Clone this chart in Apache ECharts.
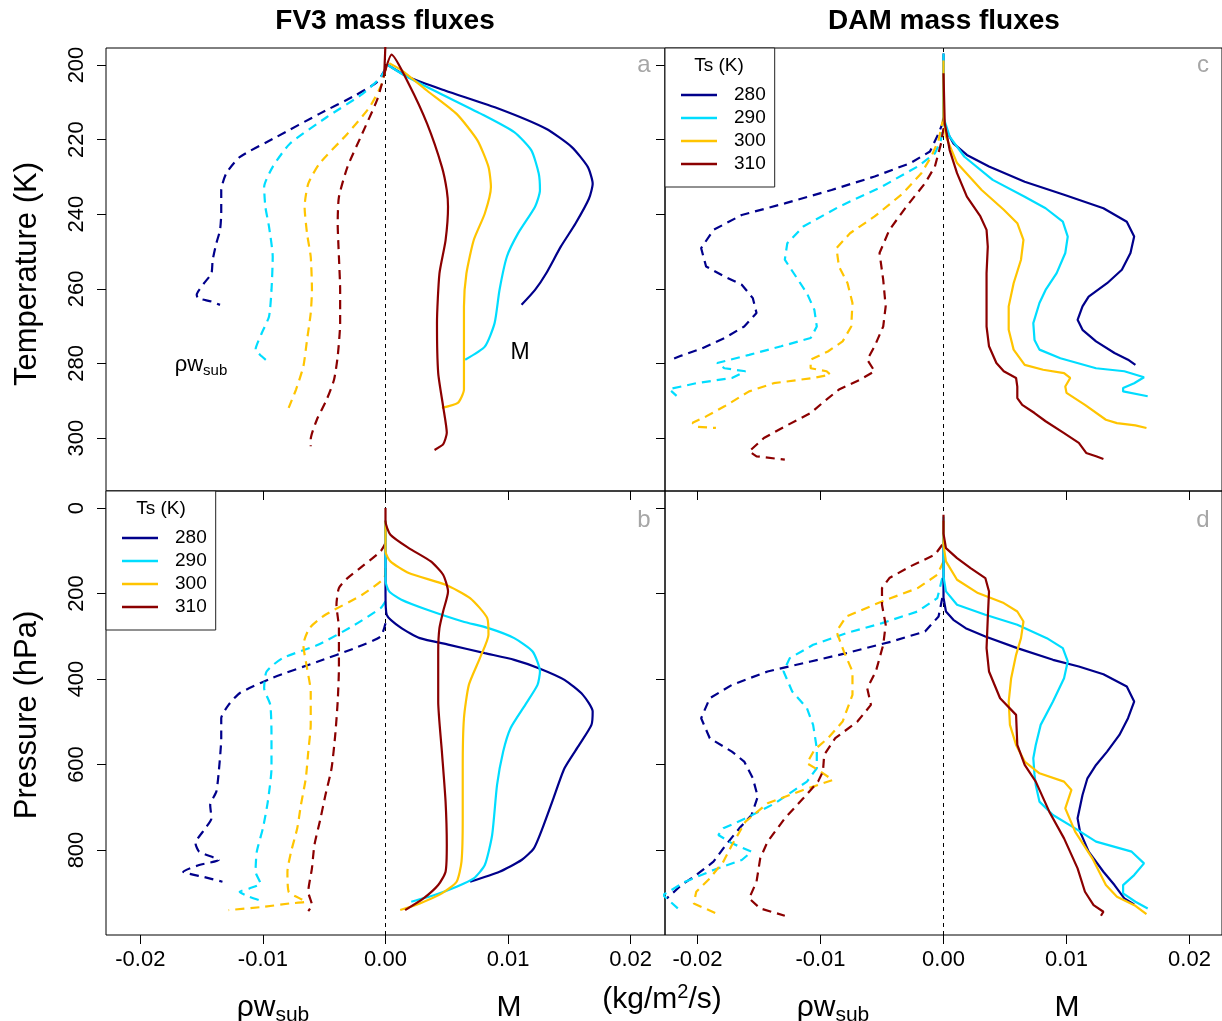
<!DOCTYPE html>
<html><head><meta charset="utf-8">
<script src="https://cdn.jsdelivr.net/npm/echarts@6/dist/echarts.min.js"></script>
<style>html,body{margin:0;padding:0;background:#fff}#c{width:1222px;height:1021px}</style>
</head><body><div id="c"></div>
<script>
// ---------- tick labels / categories ----------
const tsLabels = ['280', '290', '300', '310'];
const xTicks = [-0.02, -0.01, 0, 0.01, 0.02];
const tTicks = [200, 220, 240, 260, 280, 300];
const pTicks = [0, 200, 400, 600, 800];

// ---------- FV3, temperature coordinate (panel a) : [flux, T] ----------
const fv3T_M280 = [[0.0002,200],[0.0019,203.3],[0.0049,206.9],[0.0093,211.8],[0.0131,217.1],[0.0152,222],[0.0165,227.3],[0.0169,231.8],[0.0166,235.8],[0.0155,242.5],[0.0143,248.7],[0.0131,255.9],[0.0122,260.3],[0.0111,264.3]];
const fv3T_M290 = [[0.0002,200],[0.00135,202.4],[0.004,206.9],[0.0078,213.1],[0.0105,218],[0.0119,222.9],[0.0125,229.1],[0.0126,233.6],[0.0122,238],[0.0108,245.2],[0.0099,251.4],[0.0093,260.3],[0.0089,269.2],[0.0081,275.5],[0.0065,279]];
const fv3T_M300 = [[0.0003,199.5],[0.00135,201.5],[0.0034,206.9],[0.0058,213.1],[0.0075,220.2],[0.0084,227.3],[0.0086,232.7],[0.0081,239.8],[0.0072,246.9],[0.0066,255.9],[0.0064,264.8],[0.0064,278.1],[0.0064,287],[0.0059,290.6],[0.0046,291.9]];
const fv3T_M310 = [[0,194],[-0.0001,202.4],[0.0005,197.2],[0.0019,205.1],[0.0034,215.8],[0.0046,227.3],[0.005,233.6],[0.0051,238],[0.0049,247],[0.0044,255.9],[0.0042,269.2],[0.0043,282.6],[0.0047,291.5],[0.005,298.6],[0.0047,301.7],[0.004,303.2]];
const fv3T_W280 = [[0,201],[-0.0007,204.6],[-0.0025,208.2],[-0.0054,213.1],[-0.0089,219.3],[-0.0119,224.7],[-0.013,229.1],[-0.0134,233.6],[-0.0134,239.8],[-0.0135,244.3],[-0.0138,247.8],[-0.0141,252.3],[-0.0142,255.9],[-0.0148,258.5],[-0.0154,261.6],[-0.0153,262.5],[-0.0142,263.4],[-0.0135,264.3]];
const fv3T_W290 = [[0,201],[-0.0004,203.3],[-0.0019,207.8],[-0.0048,214],[-0.0078,221.1],[-0.0092,227.3],[-0.0099,232.7],[-0.0098,238],[-0.0095,243.4],[-0.0092,251.4],[-0.0093,260.3],[-0.0095,267.4],[-0.0101,271.9],[-0.0106,276.3],[-0.0101,278.1],[-0.0097,279.2]];
const fv3T_W300 = [[0,201],[-0.0003,205.1],[-0.0013,211.3],[-0.0031,218.4],[-0.0054,226.5],[-0.0063,231.8],[-0.0066,238],[-0.0064,245.2],[-0.0061,251.4],[-0.006,260.3],[-0.0061,266.5],[-0.0064,273.7],[-0.0067,280.8],[-0.0073,287],[-0.0079,291.9]];
const fv3T_W310 = [[0,201],[-0.0003,205.1],[-0.0007,209.5],[-0.0019,218.4],[-0.0031,227.3],[-0.0038,235.4],[-0.0039,242.5],[-0.0038,251.4],[-0.0037,260.3],[-0.0037,269.2],[-0.0039,278.1],[-0.0042,284.4],[-0.0048,289.7],[-0.0056,295.1],[-0.0061,300.4],[-0.0061,302.2]];

// ---------- FV3, pressure coordinate (panel b) : [flux, p] ----------
const fv3P_M280 = [[0,30],[0,200],[0.0001,249.8],[0.0013,281],[0.0028,304.4],[0.0052,320],[0.0081,339.5],[0.0105,355.1],[0.0125,374.6],[0.0146,402],[0.0161,437.1],[0.0169,476.1],[0.0168,507.3],[0.0158,554.2],[0.0146,608.8],[0.0137,679],[0.0128,749.3],[0.0121,796.1],[0.0111,823.4],[0.0093,850.8],[0.0069,874.2]];
const fv3P_M290 = [[0,30],[0,170],[0.0003,195],[0.0013,214.6],[0.0034,238],[0.0063,265.4],[0.0084,281],[0.0105,304.4],[0.012,335.6],[0.0126,382.4],[0.0124,413.7],[0.0114,460.5],[0.0102,515.1],[0.0096,569.8],[0.0091,647.8],[0.0087,764.9],[0.0081,835.1],[0.0072,866.4],[0.0058,885.9],[0.004,905.4],[0.0021,921]];
const fv3P_M300 = [[0,30],[0,101.5],[0.0004,124.9],[0.0019,152.2],[0.0049,179.5],[0.0069,210.7],[0.0083,257.6],[0.0084,296.6],[0.0077,351.2],[0.0068,413.7],[0.0064,491.7],[0.0063,608.8],[0.0063,725.9],[0.0062,827.3],[0.0058,874.2],[0.0046,901.5],[0.0028,924.9],[0.0012,940.5]];
const fv3P_M310 = [[0,0],[0,31.2],[0.0004,62.4],[0.0019,93.7],[0.0037,124.9],[0.0047,156.1],[0.0051,195.1],[0.0047,242],[0.0044,281],[0.0043,335.6],[0.0043,452.7],[0.0046,569.8],[0.0049,686.8],[0.005,788.3],[0.0049,850.8],[0.0043,882],[0.0031,913.2],[0.0016,940.5]];
const fv3P_W280 = [[0,269.3],[-0.0004,300.5],[-0.0025,327.8],[-0.0055,359],[-0.0093,398.1],[-0.0119,433.2],[-0.0128,460.5],[-0.0134,491.7],[-0.0134,538.5],[-0.0136,616.6],[-0.0138,663.4],[-0.0143,694.6],[-0.0142,725.9],[-0.0147,749.3],[-0.0155,784.4],[-0.0152,803.9],[-0.0136,823.4],[-0.0152,835.1],[-0.0165,850.8],[-0.0149,862.5],[-0.0133,874.2]];
const fv3P_W290 = [[0,218.5],[-0.0004,234.2],[-0.0025,273.2],[-0.0055,320],[-0.0084,351.2],[-0.0097,382.4],[-0.0099,421.5],[-0.0094,460.5],[-0.0093,530.7],[-0.0093,608.8],[-0.0096,686.8],[-0.01,749.3],[-0.0105,803.9],[-0.0106,850.8],[-0.0102,878.1],[-0.0111,889.8],[-0.0119,897.6],[-0.0111,909.3],[-0.0099,921]];
const fv3P_W300 = [[0,140.5],[-0.0001,163.9],[-0.0019,202.9],[-0.0049,249.8],[-0.0062,281],[-0.0067,320],[-0.0064,374.6],[-0.0061,429.3],[-0.0061,507.3],[-0.0063,569.8],[-0.0065,632.2],[-0.0069,694.6],[-0.0072,749.3],[-0.0077,803.9],[-0.008,850.8],[-0.0079,897.6],[-0.007,913.2],[-0.0065,921],[-0.0078,924.9],[-0.0099,932.7],[-0.0128,940.5]];
const fv3P_W310 = [[0,82],[-0.0004,101.5],[-0.0019,136.6],[-0.0031,163.9],[-0.0038,187.3],[-0.004,226.3],[-0.0038,281],[-0.0038,374.6],[-0.0039,452.7],[-0.0041,530.7],[-0.0044,608.8],[-0.0049,671.2],[-0.0053,725.9],[-0.0058,788.3],[-0.006,843],[-0.0063,897.6],[-0.006,928.8],[-0.0063,942.9]];

// ---------- DAM, temperature coordinate (panel c) ----------
const damT_M280 = [[0,196.9],[0,214.7],[0.0002,217.4],[0.0008,221],[0.0019,224.1],[0.0037,227.2],[0.0066,231.3],[0.0098,234.8],[0.013,238.4],[0.0149,242],[0.0155,246],[0.0152,250.4],[0.0145,254.9],[0.0133,258.5],[0.0118,262.1],[0.0113,264.7],[0.0109,268.3],[0.0113,271],[0.0124,274.1],[0.0139,277.2],[0.015,279],[0.0156,280.4]];
const damT_M290 = [[0,196.9],[0,214],[0.0005,219.2],[0.0017,224.6],[0.004,230.8],[0.0066,235.3],[0.0083,238.4],[0.0097,242],[0.0101,246],[0.0099,250.4],[0.0092,255.8],[0.0083,260.3],[0.0078,263.8],[0.0073,269.2],[0.0074,273.7],[0.0078,276.3],[0.0095,278.6],[0.0124,281.3],[0.0147,282.1],[0.0163,283.7],[0.0155,285.3],[0.0146,286.6],[0.0146,287.5],[0.0166,288.8]];
const damT_M300 = [[0,198.8],[0,214],[0.0002,219.2],[0.0011,226.3],[0.0031,233.5],[0.0049,238.8],[0.006,242.4],[0.0065,246.9],[0.0063,252.2],[0.0057,258.5],[0.0053,264.7],[0.0053,271],[0.0057,276.3],[0.0066,280.4],[0.0081,281.7],[0.0098,282.6],[0.0103,283.9],[0.0099,286.2],[0.01,287.9],[0.0115,291.1],[0.0132,295.1],[0.0141,296],[0.0156,296.6],[0.0165,297.3]];
const damT_M310 = [[0,202.2],[0.0001,215.6],[0.0005,222.8],[0.0011,229],[0.0019,235.3],[0.003,240.6],[0.0035,244.2],[0.0036,248.7],[0.0035,255.8],[0.0035,262.9],[0.0035,270.1],[0.0037,275.4],[0.0043,279.9],[0.0049,282.1],[0.0059,283.9],[0.006,286.2],[0.006,289.3],[0.0064,291.1],[0.0074,293.3],[0.0083,295.5],[0.0098,298.7],[0.011,301.3],[0.0116,304],[0.0124,304.9],[0.013,305.6]];
const damT_W280 = [[0,215],[-0.0004,218.3],[-0.0011,223.2],[-0.0027,226.3],[-0.0056,229.9],[-0.0091,233.5],[-0.0129,237.1],[-0.0164,240.2],[-0.0187,244.2],[-0.0197,249.1],[-0.0193,254],[-0.0178,256.7],[-0.0164,258.9],[-0.0155,262.5],[-0.0152,266.5],[-0.0162,270.1],[-0.0178,273.2],[-0.0196,275.9],[-0.0213,277.9],[-0.0223,279.2]];
const damT_W290 = [[0,214],[-0.0002,220],[-0.0007,223.7],[-0.0021,227.2],[-0.005,232.6],[-0.0085,238],[-0.0114,243.3],[-0.0127,247.8],[-0.0129,252.2],[-0.012,256.7],[-0.0111,261.2],[-0.0105,265.6],[-0.0103,270.1],[-0.0108,273.2],[-0.0132,275.4],[-0.0158,277.7],[-0.0184,279.9],[-0.0178,281.3],[-0.0161,282.1],[-0.0172,283.9],[-0.0201,285.3],[-0.0223,286.9],[-0.0217,288.7]];
const damT_W300 = [[0,214],[-0.0004,220.1],[-0.001,224.6],[-0.0018,229],[-0.0033,234.4],[-0.0056,240.6],[-0.0076,245.1],[-0.0087,249.1],[-0.0085,254],[-0.0078,258.5],[-0.0074,263.8],[-0.0075,270.1],[-0.0082,274.1],[-0.0094,276.8],[-0.0108,279],[-0.0108,281.3],[-0.0095,282.1],[-0.0092,283],[-0.0106,283.9],[-0.0138,285.3],[-0.0158,287.5],[-0.0178,291.5],[-0.0193,294.2],[-0.0204,295.9],[-0.0201,297],[-0.0185,297.3]];
const damT_W310 = [[0,217],[-0.0002,221],[-0.0007,227.2],[-0.0015,231.7],[-0.003,237.9],[-0.0044,244.2],[-0.0052,250.4],[-0.0049,257.6],[-0.0047,264.7],[-0.0049,270.1],[-0.0056,275.4],[-0.0062,279],[-0.0056,282.1],[-0.0068,284.4],[-0.0085,287],[-0.0097,290.2],[-0.0108,293.3],[-0.0129,296.9],[-0.0146,300],[-0.0158,303.6],[-0.0152,304.9],[-0.0129,305.8]];

// ---------- DAM, pressure coordinate (panel d) ----------
const damP_M280 = [[0,30],[0,210],[0.0002,242],[0.0008,261.5],[0.0018,281],[0.0034,300.5],[0.006,327.8],[0.0089,355.1],[0.011,370.7],[0.013,388.7],[0.0149,417.6],[0.0155,452.7],[0.015,491.7],[0.0143,530.7],[0.0133,569.8],[0.0124,601],[0.0117,632.2],[0.0113,671.2],[0.0109,725.9],[0.0111,757.1],[0.0118,803.9],[0.013,850.8],[0.0139,882],[0.0147,913.2],[0.0155,927.2]];
const damP_M290 = [[0,20],[0,160],[0.0002,195.1],[0.0011,226.3],[0.0034,249.8],[0.006,273.2],[0.0084,304.4],[0.0097,327.8],[0.0101,359],[0.0098,398.1],[0.0089,452.7],[0.0079,507.3],[0.0075,554.2],[0.0073,585.4],[0.0074,624.4],[0.0075,647.8],[0.0078,686.8],[0.0089,718],[0.0107,749.3],[0.0124,780.5],[0.0153,803.9],[0.0163,831.2],[0.0155,858.6],[0.0146,882],[0.0146,901.5],[0.0156,921],[0.0166,936.6]];
const damP_M300 = [[0,30],[0,85.9],[0.0002,124.9],[0.0011,167.8],[0.0028,199],[0.0049,222.4],[0.006,242],[0.0065,265.4],[0.0063,304.4],[0.0059,343.4],[0.0055,398.1],[0.0053,452.7],[0.0054,507.3],[0.0059,554.2],[0.0066,593.2],[0.0078,620.5],[0.0098,640],[0.0104,659.5],[0.0099,702.5],[0.0107,757.1],[0.0121,819.5],[0.0132,882],[0.0141,909.3],[0.0156,930.4],[0.0165,949.9]];
const damP_M310 = [[0,15.6],[0,60],[0.0002,93.7],[0.0011,117.1],[0.0022,140.5],[0.0034,163.9],[0.0037,195.1],[0.0036,257.6],[0.0035,327.8],[0.0037,382.4],[0.0046,444.9],[0.0059,483.9],[0.006,554.2],[0.0066,601],[0.0075,640],[0.0086,710.3],[0.0098,772.7],[0.0109,843],[0.0115,897.6],[0.0122,928.8],[0.013,944.4],[0.0128,953.8]];
const damP_W280 = [[-0.0001,210.7],[-0.0004,253.7],[-0.0015,288.8],[-0.0042,312.2],[-0.0079,339.5],[-0.0108,359],[-0.0143,382.4],[-0.0172,413.7],[-0.019,444.9],[-0.0197,491.7],[-0.019,538.5],[-0.0172,569.8],[-0.0162,593.2],[-0.0155,632.2],[-0.0151,675.1],[-0.0156,718],[-0.0166,749.3],[-0.0177,788.3],[-0.0187,827.3],[-0.0201,858.6],[-0.0213,882],[-0.0225,913.2]];
const damP_W290 = [[-0.0001,163.9],[-0.0005,210.7],[-0.0021,242],[-0.005,269.3],[-0.0079,292.7],[-0.0106,320],[-0.0125,351.2],[-0.013,382.4],[-0.0123,429.3],[-0.0111,468.3],[-0.0106,507.3],[-0.0103,561.9],[-0.0103,608.8],[-0.0111,640],[-0.0123,663.4],[-0.0137,690.7],[-0.0158,721.9],[-0.0179,749.3],[-0.0183,764.9],[-0.0172,784.4],[-0.0156,803.9],[-0.0164,823.4],[-0.0187,846.8],[-0.021,874.2],[-0.0228,905.4],[-0.0216,936.6]];
const damP_W300 = [[0,124.9],[-0.0005,156.1],[-0.0021,187.3],[-0.005,218.5],[-0.0079,253.7],[-0.0087,288.8],[-0.0081,335.6],[-0.0074,382.4],[-0.0074,437.1],[-0.0082,499.5],[-0.0094,538.5],[-0.0105,565.9],[-0.0111,597.1],[-0.0102,612.7],[-0.009,636.1],[-0.0114,659.5],[-0.0143,690.7],[-0.0161,733.7],[-0.0172,788.3],[-0.0179,827.3],[-0.019,866.4],[-0.0201,897.6],[-0.0203,924.9],[-0.0185,948.3]];
const damP_W310 = [[-0.0001,85.9],[-0.0007,109.3],[-0.0027,136.6],[-0.0044,163.9],[-0.005,187.3],[-0.005,226.3],[-0.0047,273.2],[-0.0049,320],[-0.0055,382.4],[-0.0062,421.5],[-0.0059,460.5],[-0.007,499.5],[-0.0088,538.5],[-0.0097,577.6],[-0.0098,616.6],[-0.0102,640],[-0.0114,679],[-0.0129,725.9],[-0.0143,780.5],[-0.0149,819.5],[-0.0152,874.2],[-0.0158,913.2],[-0.0149,936.6],[-0.0129,953.8]];

// ---------- styling ----------
const colors = ['#00008B', '#00DDFF', '#FFC400', '#8B0000'];
const FONT = '"Liberation Sans", Arial, Helvetica, sans-serif';

const panels = [
  { smooth: 0.2, M: [fv3T_M280, fv3T_M290, fv3T_M300, fv3T_M310], W: [fv3T_W280, fv3T_W290, fv3T_W300, fv3T_W310] },
  { smooth: 0.2, M: [fv3P_M280, fv3P_M290, fv3P_M300, fv3P_M310], W: [fv3P_W280, fv3P_W290, fv3P_W300, fv3P_W310] },
  { smooth: false, M: [damT_M280, damT_M290, damT_M300, damT_M310], W: [damT_W280, damT_W290, damT_W300, damT_W310] },
  { smooth: false, M: [damP_M280, damP_M290, damP_M300, damP_M310], W: [damP_W280, damP_W290, damP_W300, damP_W310] }
];

const grids = [
  { left: 106, top: 48, width: 559, height: 443 },
  { left: 106, top: 491, width: 559, height: 444 },
  { left: 665, top: 48, width: 558, height: 443 },
  { left: 665, top: 491, width: 558, height: 444 }
].map(g => Object.assign(g, { show: true, borderColor: '#000', borderWidth: 1, backgroundColor: 'transparent', containLabel: false }));

const xLim = [0.0228, 0.0228, 0.02264, 0.02264];
const xAxes = [0, 1, 2, 3].map(i => ({
  gridIndex: i, type: 'value', position: 'bottom', min: -xLim[i], max: xLim[i],
  axisLine: { show: false, onZero: false }, splitLine: { show: false },
  axisTick: { show: true, inside: false, length: 9, customValues: xTicks, lineStyle: { color: '#000', width: 1 } },
  axisLabel: { show: i === 1 || i === 3, customValues: xTicks, margin: 14, fontSize: 22, color: '#000', fontFamily: FONT,
    formatter: v => v.toFixed(2) }
}));

const yAxes = [0, 1, 2, 3].map(i => {
  const isT = (i === 0 || i === 2);
  return {
    gridIndex: i, type: 'value', position: 'left', inverse: true,
    min: isT ? 195.44 : -39.8, max: isT ? 314.2 : 998.8,
    axisLine: { show: false, onZero: false }, splitLine: { show: false },
    axisTick: { show: true, inside: false, length: 9, customValues: isT ? tTicks : pTicks, lineStyle: { color: '#000', width: 1 } },
    axisLabel: { show: i < 2, customValues: isT ? tTicks : pTicks, rotate: 90, margin: 18, fontSize: 22, color: '#000', fontFamily: FONT }
  };
});

const series = [];
panels.forEach((p, g) => {
  p.W.forEach((d, k) => {
    const s = {
      name: tsLabels[k] + ' w', type: 'line', xAxisIndex: g, yAxisIndex: g, data: d,
      symbol: 'none', showSymbol: false, clip: true, smooth: p.smooth, z: 3,
      lineStyle: { color: colors[k], width: 2.2, type: [9, 6] }, itemStyle: { color: colors[k] }
    };
    if (k === 0) {
      s.markLine = { silent: true, symbol: 'none', label: { show: false }, z: 2,
        lineStyle: { color: '#000', width: 1, type: [4, 4] }, data: [{ xAxis: 0 }] };
    }
    series.push(s);
  });
  p.M.forEach((d, k) => {
    series.push({
      name: tsLabels[k], type: 'line', xAxisIndex: g, yAxisIndex: g, data: d,
      symbol: 'none', showSymbol: false, clip: true, smooth: p.smooth, z: 4,
      lineStyle: { color: colors[k], width: 2.2, type: 'solid' }, itemStyle: { color: colors[k] }
    });
  });
});

const legendBase = {
  orient: 'vertical', data: tsLabels, selectedMode: false,
  icon: 'rect', itemWidth: 36, itemHeight: 2.5, itemGap: 3,
  padding: [37, 9, 13, 16],
  borderColor: '#222', borderWidth: 1, backgroundColor: '#fff',
  textStyle: { fontSize: 19, lineHeight: 20, color: '#000', fontFamily: FONT, padding: [0, 0, 0, 12] }
};

const txt = (x, y, text, size, opts) => Object.assign({
  type: 'text', x, y, z: 100,
  style: Object.assign({ text, font: size + 'px ' + FONT, fill: '#000', textAlign: 'center', textVerticalAlign: 'middle' }, (opts && opts.style) || {})
}, (opts && opts.el) || {});

const subRich = (big, small) => ({
  a: { fontSize: big, fontFamily: FONT, lineHeight: Math.round(big * 1.2), verticalAlign: 'middle' },
  s: { fontSize: small, fontFamily: FONT, lineHeight: Math.round(small * 0.85), verticalAlign: 'bottom' },
  p: { fontSize: small, fontFamily: FONT, lineHeight: Math.round(small * 0.9), verticalAlign: 'top' }
});

const graphic = [
  txt(385, 21, 'FV3 mass fluxes', 28, { style: { font: 'bold 28px ' + FONT } }),
  txt(944, 21, 'DAM mass fluxes', 28, { style: { font: 'bold 28px ' + FONT } }),
  txt(27, 274, 'Temperature (K)', 31, { el: { rotation: Math.PI / 2 } }),
  txt(27, 715, 'Pressure (hPa)', 31, { el: { rotation: Math.PI / 2 } }),
  txt(273, 1008, '', 30, { style: { text: '{a|ρw}{s|sub}', rich: subRich(30, 21) } }),
  txt(509, 1008, 'M', 30),
  txt(662, 1000, '', 30, { style: { text: '{a|(kg/m}{p|2}{a|/s)}', rich: subRich(30, 20) } }),
  txt(833, 1008, '', 30, { style: { text: '{a|ρw}{s|sub}', rich: subRich(30, 21) } }),
  txt(1067, 1008, 'M', 30),
  txt(201, 365, '', 22, { style: { text: '{a|ρw}{s|sub}', rich: subRich(22, 15) } }),
  txt(520, 353, 'M', 23),
  txt(644, 65, 'a', 24, { style: { fill: '#A6A6A6' } }),
  txt(644, 520, 'b', 24, { style: { fill: '#A6A6A6' } }),
  txt(1203, 65, 'c', 24, { style: { fill: '#A6A6A6' } }),
  txt(1203, 520, 'd', 24, { style: { fill: '#A6A6A6' } }),
  txt(161, 509, 'Ts (K)', 19),
  txt(719, 66, 'Ts (K)', 19)
];

const option = {
  animation: false,
  backgroundColor: '#fff',
  textStyle: { fontFamily: FONT },
  grid: grids,
  xAxis: xAxes,
  yAxis: yAxes,
  legend: [
    Object.assign({}, legendBase, { left: 106, top: 491 }),
    Object.assign({}, legendBase, { left: 665, top: 48 })
  ],
  series,
  graphic
};

const chart = echarts.init(document.getElementById('c'), null, { renderer: 'canvas' });
chart.setOption(option);
</script></body></html>
